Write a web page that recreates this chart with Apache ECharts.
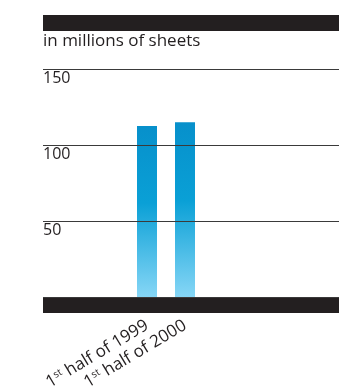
<!DOCTYPE html>
<html><head><meta charset="utf-8">
<script src="https://cdn.jsdelivr.net/npm/echarts@6/dist/echarts.min.js"></script>
<style>html,body{margin:0;padding:0;background:#fff}#c{width:339px;height:388px}</style>
</head><body><div id="c"></div>
<script>
const categories = ['1st half of 1999', '1st half of 2000'];
const sheets = [112.5, 115];
const yTicks = { min: 0, max: 150, interval: 50 };
const unitLabel = 'in millions of sheets';

const FONT = 'Open Sans';
const INK = '#231f20';
const chart = echarts.init(document.getElementById('c'), null, { renderer: 'canvas' });
chart.setOption({
  animation: false,
  textStyle: { fontFamily: FONT },
  title: {
    text: unitLabel, left: 43, top: 33, padding: 0,
    textStyle: { fontFamily: FONT, fontSize: 17, fontWeight: 'normal', color: INK }
  },
  grid: [
    { left: 43, right: 0, top: 69, bottom: 91, outerBoundsMode: 'none', containLabel: false },
    { left: 128, width: 76, top: 69, bottom: 91, outerBoundsMode: 'none', containLabel: false }
  ],
  xAxis: [
    { gridIndex: 0, type: 'value', min: 0, max: 1, position: 'bottom', offset: 8,
      axisLine: { show: true, onZero: false, lineStyle: { color: INK, width: 16, cap: 'butt' } },
      axisTick: { show: false }, axisLabel: { show: false }, splitLine: { show: false } },
    { gridIndex: 0, type: 'value', min: 0, max: 1, position: 'top', offset: 46,
      axisLine: { show: true, onZero: false, lineStyle: { color: INK, width: 16, cap: 'butt' } },
      axisTick: { show: false }, axisLabel: { show: false }, splitLine: { show: false } },
    { gridIndex: 1, type: 'category', data: categories,
      axisLine: { show: false }, axisTick: { show: false },
      axisLabel: {
        rotate: 31, margin: 27, interval: 0, fontFamily: FONT, fontSize: 17, color: INK,
        formatter: v => { const m = v.match(/^(\d+)(st|nd|rd|th)(.*)$/); return m ? '{n|' + m[1] + '}{s|' + m[2] + '}{n|' + m[3] + '}' : v; },
        rich: {
          n: { fontFamily: FONT, fontSize: 17, color: INK },
          s: { fontFamily: FONT, fontSize: 10, color: INK, verticalAlign: 'top', padding: [0, 0, 7, 0] }
        }
      } }
  ],
  yAxis: [
    { gridIndex: 0, type: 'value', min: yTicks.min, max: yTicks.max, interval: yTicks.interval, z: 5,
      axisLine: { show: false }, axisTick: { show: false },
      axisLabel: { inside: true, margin: 0, align: 'left', verticalAlign: 'top', showMinLabel: false,
        fontFamily: FONT, fontSize: 16, color: INK, padding: [1, 0, 0, 0] },
      splitLine: { show: true, lineStyle: { color: '#3a3a3a', width: 1.2 } } },
    { gridIndex: 1, type: 'value', min: yTicks.min, max: yTicks.max, interval: yTicks.interval, show: false }
  ],
  series: [{
    type: 'bar', xAxisIndex: 2, yAxisIndex: 1, data: sheets, barWidth: 20,
    itemStyle: { color: new echarts.graphic.LinearGradient(0, 0, 0, 1, [
      { offset: 0, color: '#0790cb' }, { offset: 0.45, color: '#0aa0d6' }, { offset: 1, color: '#86d6f6' }
    ]) }
  }]
});
</script></body></html>
